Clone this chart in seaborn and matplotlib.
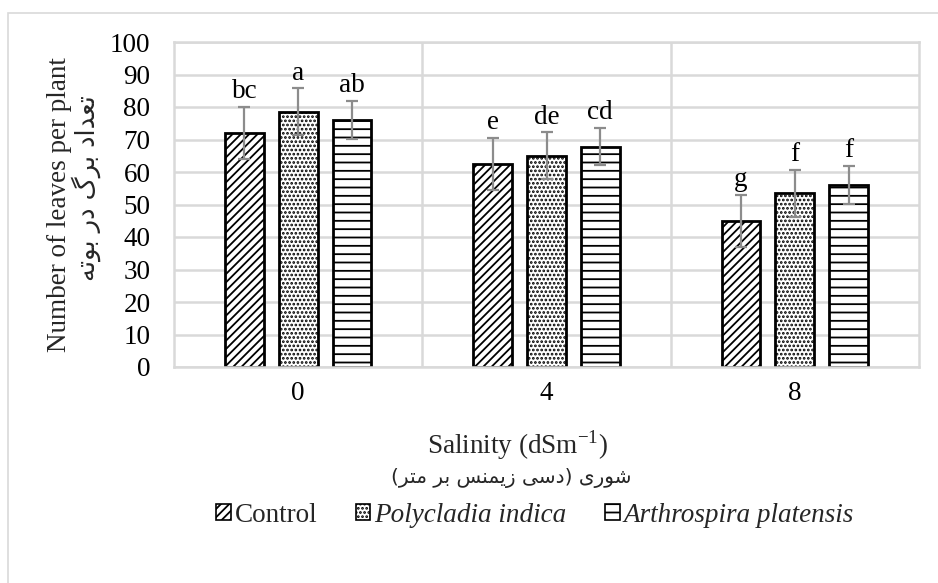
import matplotlib
matplotlib.use("Agg")
import matplotlib.pyplot as plt
from matplotlib.patches import Patch, Rectangle
import seaborn as sns
import pandas as pd

# ---- data -------------------------------------------------------------
salinity = ["0", "4", "8"]
treatments = ["Control", "Polycladia indica", "Arthrospira platensis"]
control = [72.0, 62.5, 45.0]
polycladia = [78.5, 65.0, 53.5]
arthrospira = [76.0, 67.8, 56.0]
control_err = [8.0, 8.0, 8.0]
polycladia_err = [7.2, 7.2, 7.2]
arthrospira_err = [5.8, 5.7, 5.8]
control_grp = ["bc", "e", "g"]
polycladia_grp = ["a", "de", "f"]
arthrospira_grp = ["ab", "cd", "f"]
yticks = list(range(0, 101, 10))

means = [control, polycladia, arthrospira]
errs = [control_err, polycladia_err, arthrospira_err]
groups = [control_grp, polycladia_grp, arthrospira_grp]

df = pd.DataFrame({
    "salinity": salinity * 3,
    "treatment": [t for t in treatments for _ in salinity],
    "leaves": control + polycladia + arthrospira,
})

# ---- minimal Persian shaping (presentation forms, visual order) ----------
# isolated, final, initial, medial
FORMS = {
    "ا": ("\uFE8D", "\uFE8E", None, None),
    "ب": ("\uFE8F", "\uFE90", "\uFE91", "\uFE92"),
    "ت": ("\uFE95", "\uFE96", "\uFE97", "\uFE98"),
    "د": ("\uFEA9", "\uFEAA", None, None),
    "ر": ("\uFEAD", "\uFEAE", None, None),
    "ز": ("\uFEAF", "\uFEB0", None, None),
    "س": ("\uFEB1", "\uFEB2", "\uFEB3", "\uFEB4"),
    "ش": ("\uFEB5", "\uFEB6", "\uFEB7", "\uFEB8"),
    "ع": ("\uFEC9", "\uFECA", "\uFECB", "\uFECC"),
    "م": ("\uFEE1", "\uFEE2", "\uFEE3", "\uFEE4"),
    "ن": ("\uFEE5", "\uFEE6", "\uFEE7", "\uFEE8"),
    "ه": ("\uFEE9", "\uFEEA", "\uFEEB", "\uFEEC"),
    "و": ("\uFEED", "\uFEEE", None, None),
    "ی": ("\uFBFC", "\uFBFD", "\uFBFE", "\uFBFF"),
    "گ": ("\uFB92", "\uFB93", "\uFB94", "\uFB95"),
}
MIRROR = {"(": ")", ")": "("}


def persian(text):
    out = []
    for i, ch in enumerate(text):
        if ch not in FORMS:
            out.append(MIRROR.get(ch, ch))
            continue
        prev = text[i - 1] if i > 0 else ""
        nxt = text[i + 1] if i + 1 < len(text) else ""
        joins_prev = prev in FORMS and FORMS[prev][2] is not None
        joins_next = nxt in FORMS and FORMS[ch][2] is not None
        iso, fin, ini, med = FORMS[ch]
        if joins_prev and joins_next:
            out.append(med)
        elif joins_prev:
            out.append(fin)
        elif joins_next:
            out.append(ini)
        else:
            out.append(iso)
    return "".join(reversed(out))


# ---- style ---------------------------------------------------------------
sns.set_theme(style="white")
plt.rcParams["font.family"] = ["Liberation Serif", "DejaVu Sans"]
plt.rcParams["mathtext.fontset"] = "custom"
plt.rcParams["mathtext.rm"] = "Liberation Serif"
plt.rcParams["hatch.linewidth"] = 1.3
FS = 19.5
GRID = "#d9d9d9"

fig = plt.figure(figsize=(9.38, 5.83), dpi=100)
fig.patches.append(Rectangle((8 / 938, -0.1), 1.2, 1 - 13 / 583 + 0.1,
                             transform=fig.transFigure, fill=False,
                             edgecolor=GRID, linewidth=1.2))
ax = fig.add_axes([174 / 938, 216 / 583, 745 / 938, 325 / 583])

sns.barplot(data=df, x="salinity", y="leaves", hue="treatment",
            palette=["white"] * 3, edgecolor="black", linewidth=2,
            width=0.65, gap=0.28, errorbar=None, legend=False, ax=ax)

hatches = ["////", "....", "--"]
bar_containers = list(ax.containers)
for k, cont in enumerate(bar_containers):
    for j, bar in enumerate(cont):
        bar.set_hatch(hatches[k])
        bar.set_edgecolor("black")
        x = bar.get_x() + bar.get_width() / 2
        h = bar.get_height()
        ax.errorbar(x, h, yerr=errs[k][j], color="#8c8c8c", elinewidth=1.6,
                    capsize=4.5, capthick=1.6, zorder=5)
        ax.annotate(groups[k][j], (x, h + errs[k][j]), xytext=(0, 2),
                    textcoords="offset points", ha="center", va="bottom",
                    fontsize=FS, color="black")

ax.set_ylim(0, 100)
ax.set_xlim(-0.5, 2.5)
ax.set_yticks(yticks)
ax.set_xticks(range(len(salinity)))
ax.set_xticklabels(salinity)
ax.set_xticks([0.5, 1.5], minor=True)
ax.set_axisbelow(True)
ax.grid(axis="y", which="major", color=GRID, linewidth=1.8)
ax.grid(axis="x", which="minor", color=GRID, linewidth=1.8)
ax.grid(axis="x", which="major", visible=False)
ax.tick_params(axis="both", which="both", length=0, labelsize=FS, colors="black")
ax.tick_params(axis="y", pad=17)
ax.tick_params(axis="x", pad=10)
for s in ax.spines.values():
    s.set_color(GRID)
    s.set_linewidth(1.8)
ax.set_xlabel("")
ax.set_ylabel("")

# axis titles
fig.text(59 / 938, 1 - 205 / 583, "Number of leaves per plant", rotation=90,
         ha="center", va="center", fontsize=FS)
fig.text(86 / 938, 1 - 188 / 583, persian("تعداد برگ در بوته"), rotation=90,
         ha="center", va="center", fontsize=FS - 1,
         family=["DejaVu Sans"])
fig.text(517 / 938, 1 - 445 / 583, "Salinity (dSm$^{\\mathregular{-1}}$)",
         ha="center", va="center", fontsize=FS)
fig.text(511 / 938, 1 - 478 / 583, persian("شوری (دسی زیمنس بر متر)"),
         ha="center", va="center", fontsize=FS - 5,
         family=["DejaVu Sans"])

# legend
handles = [Patch(facecolor="white", edgecolor="black", hatch=h, linewidth=1.2)
           for h in hatches]
leg = fig.legend(handles, treatments, loc="center",
                 bbox_to_anchor=(535 / 938, 1 - 515 / 583), ncol=3,
                 frameon=False, fontsize=FS, handlelength=0.55,
                 handleheight=0.55, handletextpad=0.15, columnspacing=1.4)
for t in leg.get_texts()[1:]:
    t.set_style("italic")

fig.savefig("out.png", dpi=100)
